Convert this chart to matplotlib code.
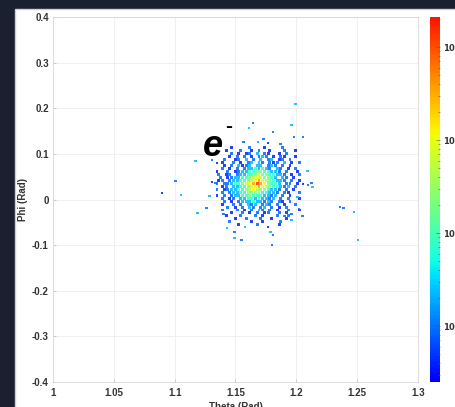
import numpy as np
import matplotlib.pyplot as plt
from matplotlib.colors import LogNorm, ListedColormap
from matplotlib.patches import Rectangle

# binned core of the distribution: one character per bin, '.' = empty,
# '1'..'9' = index into level_values; odd rows sit half a bin to the right
THETA0, DTHETA = 1.1348, 0.003
PHI0, DPHI = 0.1135, 0.0065
core_rows = [
    "....1....2...1....2....",
    "..1...2..1.2..1...2..1.",
    "....2.1.12.3.21..1.2...",
    "...1.2.2.1.232.1.21..1.",
    "..2..12.3.2.3.23.12.2..",
    ".1..2.1.23.32.212.3.1.2",
    "..1.2.3123.33.232.2.1..",
    ".2.1.2.23343432.32.1.2.",
    "1..2.1233445544332.2..1",
    "2.12.23344565544332.1.2",
    ".2.12334456765543.32.1.",
    "12.2334456787654332.2.1",
    "2.2234456789875443.22.1",
    ".12.3344567876544323.2.",
    "2.1233445676554332.2.1.",
    ".2.23344555544332.21..2",
    "1.2.2334454443323.2.1..",
    ".2.12.3344343323.2.2..1",
    "..2.1.2333433232.21.2..",
    ".1..2.2.323.232.2.1..2.",
    "...2.1.2.32.23.2.1.2...",
    ".2...2.1.2.32.2.1..2..1",
    "....1..2.1.2.12..2.1...",
    "..1...2...2.1...2..2...",
    ".....1..2...2..1...1...",
    "...2.....1..1....2.....",
    "......1....2.....1.....",
]
level_values = [0.04, 0.09, 0.22, 0.7, 2.0, 5.0, 12.0, 35.0, 120.0]

# isolated hits away from the core
outlier_theta = [1.1997, 1.1644, 1.1611, 1.1808, 1.1964, 1.1981, 1.1562, 1.1685, 1.1734, 1.1767,
                 1.1866, 1.2055, 1.2088, 1.2055, 1.2121, 1.2129, 1.2384, 1.2359, 1.2474, 1.2507,
                 1.2047, 1.1175, 1.1003, 1.0896, 1.1052, 1.1184, 1.1258, 1.1405, 1.1430, 1.1488,
                 1.1488, 1.1553, 1.1578, 1.1800, 1.1784, 1.1808, 1.1767, 1.1964, 1.1964, 1.2022,
                 1.1899, 1.2006, 1.1307, 1.1348, 1.1307, 1.1332, 1.2096, 1.1290]
outlier_phi = [0.2093, 0.1677, 0.1567, 0.1479, 0.1633, 0.1370, 0.1260, 0.1260, 0.1326, 0.1238,
               0.1216, 0.1370, 0.0625, 0.0340, 0.0362, 0.0274, -0.0186, -0.0164, -0.0274, -0.0888,
               -0.0362, 0.0844, 0.0405, 0.0143, 0.0099, -0.0296, -0.0186, -0.0318, -0.0625, -0.0712,
               -0.0844, -0.0888, -0.0603, -0.0997, -0.0712, -0.0778, -0.0603, -0.0318, -0.0449, -0.0208,
               -0.0362, 0.0055, 0.0866, 0.0800, 0.0384, 0.0362, 0.0318, 0.0077]
outlier_level = [3, 2, 3, 2, 3, 2, 2, 3, 2, 1, 2, 2, 3, 1, 2, 3, 2, 2, 3, 3,
                 2, 3, 2, 1, 3, 3, 2, 2, 3, 2, 3, 2, 3, 2, 3, 2, 1, 2, 3, 2,
                 2, 3, 2, 1, 1, 2, 2, 3]

x_ticks = [1, 1.05, 1.1, 1.15, 1.2, 1.25, 1.3]
x_tick_labels = ["1", "1.05", "1.1", "1.15", "1.2", "1.25", "1.3"]
y_ticks = [-0.4, -0.3, -0.2, -0.1, 0, 0.1, 0.2, 0.3, 0.4]
y_tick_labels = ["-0.4", "-0.3", "-0.2", "-0.1", "0", "0.1", "0.2", "0.3", "0.4"]
cbar_ticks = [0.1, 1, 10, 100]
cbar_tick_labels = [r"$\mathbf{10^{-1}}$", r"$\mathbf{10^{0}}$", r"$\mathbf{10^{1}}$", r"$\mathbf{10^{2}}$"]
CLIM = (0.025, 210)


def collect_points():
    th, ph, val = [], [], []
    for r, row in enumerate(core_rows):
        for c, ch in enumerate(row):
            if ch == ".":
                continue
            th.append(THETA0 + DTHETA * (c + 0.5 * (r % 2)))
            ph.append(PHI0 - DPHI * r)
            val.append(level_values[int(ch) - 1])
    for t, p, lv in zip(outlier_theta, outlier_phi, outlier_level):
        th.append(t)
        ph.append(p)
        val.append(level_values[lv - 1])
    th, ph, val = np.array(th), np.array(ph), np.array(val)
    order = np.argsort(val)
    return th[order], ph[order], val[order]


# jet without the dark navy / dark maroon ends
base = plt.get_cmap("jet")
cmap = ListedColormap(base(np.linspace(0.12, 0.89, 256)))

W, H = 456, 407
fig = plt.figure(figsize=(W / 100, H / 100), dpi=100, facecolor="#1b2030")
fig.add_artist(Rectangle((15 / W, -0.01), 1, 1.01 - 9 / H, transform=fig.transFigure,
                         facecolor="white", edgecolor="#d0d0d0", lw=1.0, zorder=-5))

font = {"family": "Liberation Sans", "weight": "bold", "size": 7, "color": "#333333"}

ax = fig.add_axes([53 / W, 25 / H, 365 / W, 365 / H])
th, ph, val = collect_points()
sc = ax.scatter(th, ph, c=val, cmap=cmap, norm=LogNorm(*CLIM), s=4.5, marker="s",
                edgecolors="none", alpha=0.85, zorder=3)

ax.set_xlim(1, 1.3)
ax.set_ylim(-0.4, 0.4)
ax.set_xticks(x_ticks)
ax.set_xticklabels(x_tick_labels, fontdict=font)
ax.set_yticks(y_ticks)
ax.set_yticklabels(y_tick_labels, fontdict=font)
ax.tick_params(direction="in", length=2, width=0.5, color="#bbbbbb", pad=3)
ax.tick_params(axis="x", pad=4)
ax.grid(True, color="#eeeeee", lw=0.6)
ax.set_axisbelow(True)
for sp in ax.spines.values():
    sp.set_color("#d8d8d8")
    sp.set_linewidth(0.6)
ax.set_xlabel("Theta (Rad)", fontdict=font, labelpad=3)
ax.set_ylabel("Phi (Rad)", fontdict=font, labelpad=3)

# particle tag
ax.text(1.1233, 0.0953, "e", fontsize=26, fontweight="bold", fontstyle="italic",
        family="Liberation Sans", color="black", va="baseline", ha="left", zorder=5)
ax.text(1.1418, 0.160, "-", fontsize=15, fontweight="bold", family="Liberation Sans",
        color="black", va="center", ha="left", zorder=5)

cax = fig.add_axes([430 / W, 25 / H, 10 / W, 365 / H])
cb = fig.colorbar(sc, cax=cax)
cb.solids.set_alpha(1)
cb.outline.set_visible(False)
cb.set_ticks(cbar_ticks)
cb.set_ticklabels(cbar_tick_labels)
cax.tick_params(which="both", direction="in", color="#555555", width=0.4, labelsize=6,
                labelcolor="#333333", pad=2)
cax.tick_params(which="major", length=3)
cax.tick_params(which="minor", length=1.5)

fig.savefig("out.png", dpi=100, facecolor=fig.get_facecolor())
